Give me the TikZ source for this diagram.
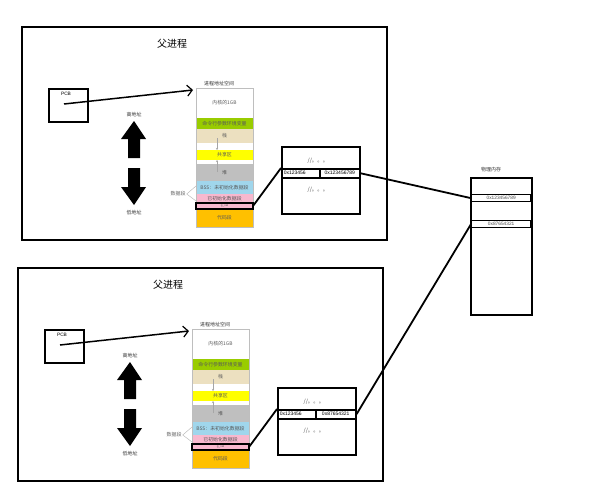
\documentclass[tikz,border=0pt]{standalone}
\usepackage{fontspec}
\setmainfont{Liberation Sans}
\newfontfamily\cjk{Noto Sans CJK SC}
\usetikzlibrary{arrows.meta}
\definecolor{memgreen}{RGB}{153,204,0}
\definecolor{memtan}{RGB}{236,224,192}
\definecolor{memyellow}{RGB}{255,255,0}
\definecolor{memgray}{RGB}{191,191,191}
\definecolor{memblue}{RGB}{160,214,236}
\definecolor{mempink}{RGB}{248,184,206}
\definecolor{memorange}{RGB}{255,192,0}
\definecolor{colborder}{RGB}{190,190,190}
\tikzset{
  outerbox/.style={draw=black, line width=2pt, anchor=north west, inner sep=0pt},
  pcbbox/.style={draw=black, line width=1.6pt, anchor=north west, inner sep=0pt,
    minimum width=39pt, minimum height=33pt},
  memrow/.style={anchor=north west, minimum width=57pt, inner sep=0pt, outer sep=0pt,
    font=\cjk\fontsize{4.9}{5}\selectfont, text=black!65},
  smalllabel/.style={font=\cjk\fontsize{5}{6}\selectfont, text=black!80, inner sep=0pt},
  titlelabel/.style={font=\cjk\fontsize{10}{12}\selectfont, inner sep=0pt},
  ptbox/.style={draw=black, line width=2pt, anchor=north west, inner sep=0pt},
  ptcell/.style={draw=black, line width=1.5pt, anchor=north west, inner sep=0pt,
    minimum height=9pt, font=\fontsize{5}{6}\selectfont},
  physrow/.style={draw=black, line width=1.3pt, anchor=north west, inner sep=0pt,
    minimum width=59pt, minimum height=7pt, font=\fontsize{4.8}{5}\selectfont, text=black!70},
  conn/.style={draw=black, line width=1.8pt},
  thinarrow/.style={draw=black!35, line width=0.4pt, -{Stealth[length=2pt,width=2pt]}},
  braceline/.style={draw=black!30, line width=0.4pt},
  blockarrow/.style={fill=black, draw=none},
  dots/.style={font=\cjk\fontsize{5.5}{6}\selectfont, text=black!70, inner sep=0pt}
}
\newcommand\procpanel[2]{%
  \node[outerbox, minimum width=365pt, minimum height=213pt] (#1outer) at (21,26) {};
  \node[titlelabel] (#1title) at (172,44) {父进程};
  % PCB
  \node[pcbbox] (#1pcb) at (48,88) {};
  \node[font=\fontsize{4.8}{5}\selectfont, inner sep=0pt] (#1pcblabel) at (66,94) {PCB};
  \coordinate (#1pcbin) at (64,104);
  \coordinate (#1tip) at (193,90);
  \draw[conn, line width=1.5pt, -{Straight Barb[length=5pt,width=11pt,line width=1.2pt]}] (#1pcbin) -- (#1tip);
  % address space column
  \node[smalllabel] (#1spacelabel) at (219,84) {进程地址空间};
  \node[memrow, fill=white, minimum height=30pt] (#1kern) at (196,88) {内核的1GB};
  \node[memrow, fill=memgreen, minimum height=11pt] (#1args) at (196,118) {命令行参数环境变量};
  \node[memrow, fill=memtan, minimum height=14pt] (#1stack) at (196,129) {\raisebox{2pt}{栈}};
  \node[memrow, fill=white, minimum height=7pt] (#1gap1) at (196,143) {};
  \node[memrow, fill=memyellow, minimum height=10pt] (#1shared) at (196,150) {共享区};
  \node[memrow, fill=white, minimum height=4pt] (#1gap2) at (196,160) {};
  \node[memrow, fill=memgray, minimum height=17pt] (#1heap) at (196,164) {\raisebox{-5pt}{堆}};
  \node[memrow, fill=memblue, minimum height=13pt] (#1bss) at (196,181) {BSS：未初始化数据段};
  \node[memrow, fill=mempink, minimum height=9pt] (#1data) at (196,194) {\raisebox{-1.5pt}{已初始化数据段}};
  \node[memrow, fill=mempink, minimum height=6pt, font=\fontsize{3}{3}\selectfont] (#1gval) at (196,203) {g\_val};
  \node[memrow, fill=memorange, minimum height=18pt] (#1code) at (196,209) {代码段};
  \draw[colborder, line width=0.5pt] (#1kern.north west) rectangle (#1code.south east);
  \draw[black, line width=1.6pt] (#1gval.north west) rectangle (#1gval.south east);
  \coordinate (#1a1s) at (217,138);
  \coordinate (#1a1e) at (217,150);
  \coordinate (#1a2s) at (217,172);
  \coordinate (#1a2e) at (217,160);
  \draw[thinarrow] (#1a1s) -- (#1a1e);
  \draw[thinarrow] (#1a2s) -- (#1a2e);
  % data segment label
  \node[smalllabel, text=black!60] (#1datalabel) at (178,194) {数据段};
  \coordinate (#1b1) at (196,186);
  \coordinate (#1b2) at (196,201);
  \draw[braceline] (#1datalabel.east) ++(1,0) -- (#1b1);
  \draw[braceline] (#1datalabel.east) ++(1,0) -- (#1b2);
  % high / low address
  \node[smalllabel] (#1high) at (134,115) {高地址};
  \node[smalllabel] (#1low) at (134,213) {低地址};
  \fill[blockarrow] (134,121) -- (146,139) -- (140,139) -- (140,158) -- (128,158) -- (128,139) -- (121,139) -- cycle;
  \fill[blockarrow] (128,168) -- (140,168) -- (140,187) -- (146,187) -- (134,205) -- (121,187) -- (128,187) -- cycle;
  % page table
  \node[ptbox, minimum width=78pt, minimum height=67pt] (#1pt) at (281,146) {};
  \node[ptcell, minimum width=38pt, text width=34pt, align=left] (#1ptl) at (281,168) {0x123456};
  \node[ptcell, minimum width=40pt] (#1ptr) at (319,168) {#2};
  \node[dots] (#1dots1) at (318,161) {//。。。};
  \node[dots] (#1dots2) at (318,190) {//。。。};
  \draw[conn] (#1gval.east) -- (#1ptl.north west);
}
\begin{document}
\begin{tikzpicture}[x=1pt,y=-1pt]
\useasboundingbox (0,0) rectangle (596,500);
\fill[white] (0,0) rectangle (596,500);
\begin{scope}
  \procpanel{t}{0x123456789}
\end{scope}
\begin{scope}[shift={(-4,241)}]
  \procpanel{b}{0x87654321}
\end{scope}
% physical memory
\node[smalllabel] (physlabel) at (491,170) {物理内存};
\node[ptbox, minimum width=61pt, minimum height=137pt] (phys) at (470,177) {};
\node[physrow] (phys1) at (471,194) {0x123456789};
\node[physrow] (phys2) at (471,220) {0x87654321};
\draw[conn] (tptr.east) -- (phys1.west);
\draw[conn] (bptr.east) -- (phys2.west);
\end{tikzpicture}
\end{document}
